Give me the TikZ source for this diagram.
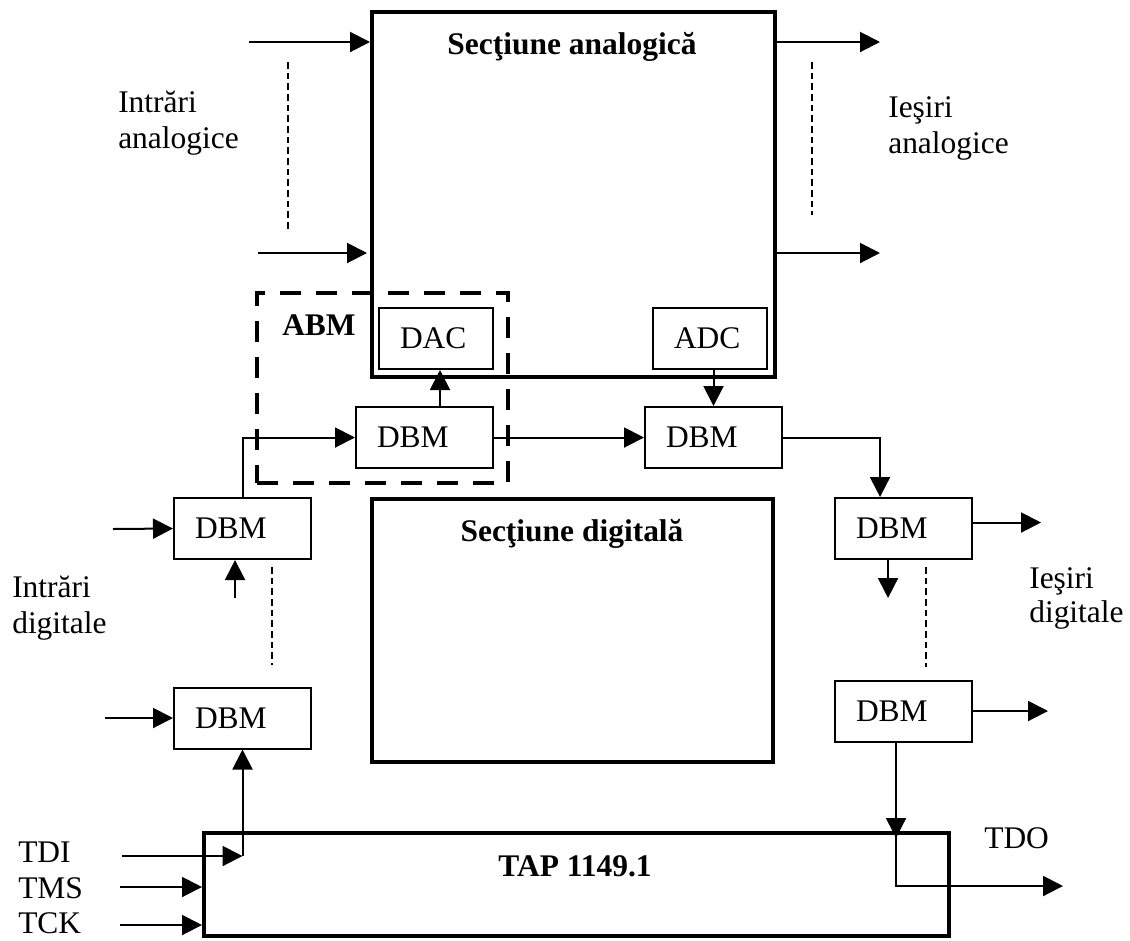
\documentclass[tikz,border=0pt]{standalone}
\usepackage{fontspec}
\setmainfont{Liberation Serif}
\usetikzlibrary{arrows.meta}
\begin{document}
\begin{tikzpicture}[x=0.75pt,y=-0.75pt,
  font=\fontsize{23.6}{28}\selectfont,
  arr/.style={line width=1.5pt,-{Triangle[length=15pt,width=15pt]}},
  ln/.style={line width=1.5pt},
  dsh/.style={line width=1.2pt,dash pattern=on 5pt off 3pt},
  big/.style={draw,line width=3pt,rectangle,inner sep=0pt},
  abmbox/.style={draw,line width=3.5pt,rectangle,inner sep=0pt,dash pattern=on 16pt off 11pt},
  blk/.style={draw,line width=1.5pt,rectangle,inner xsep=15.75pt,inner ysep=0pt,minimum height=45.75pt,align=left},
  dbm/.style={blk,text width=71.25pt},
  cnv/.style={blk,text width=54pt},
  lbl/.style={anchor=base west,inner sep=0pt},
  ttl/.style={anchor=base,inner sep=0pt,font=\fontsize{23.6}{28}\selectfont\bfseries}
]
\useasboundingbox (0,0) rectangle (1130,940);

% big sections
\node[big,minimum width=302.25pt,minimum height=273.75pt] (ana) at (573.5,194.5) {};
\node[big,minimum width=300.75pt,minimum height=197.25pt] (dig) at (572.5,630.5) {};
\node[big,minimum width=558.75pt,minimum height=77.25pt] (tap) at (576.5,884.5) {};
\node[ttl] (tana) at (572,54) {Secţiune analogică};
\node[ttl] (tdig) at (572,541) {Secţiune digitală};
\node[ttl] (ttap) at (575,876) {TAP 1149.1};

% ABM dashed box
\node[abmbox,minimum width=188.25pt,minimum height=142.5pt] (abm) at (382.5,388) {};
\node[ttl,anchor=base west] (tabm) at (282,335) {ABM};

% blocks
\node[cnv] (dac) at (436,338.5) {DAC};
\node[cnv] (adc) at (710,338.5) {ADC};
\node[dbm] (d1) at (424.5,437.5) {DBM};
\node[dbm] (d2) at (713.5,437.5) {DBM};
\node[dbm] (d3) at (903.5,528.5) {DBM};
\node[dbm] (d4) at (903.5,711) {DBM};
\node[dbm] (d6) at (242.5,528.5) {DBM};
\node[dbm] (d5) at (242.5,718) {DBM};

% analog inputs / outputs
\coordinate (ia1) at (249,42);
\coordinate (ia2) at (258,253);
\coordinate (ia2e) at (367,253);
\coordinate (oa1) at (880,42);
\coordinate (oa2) at (880,253);
\draw[arr] (ia1) -- (ia1 -| ana.west);
\draw[arr] (ia2) -- (ia2e);
\draw[arr] (oa1 -| ana.east) -- (oa1);
\draw[arr] (oa2 -| ana.east) -- (oa2);
\coordinate (dl1) at (288,62); \coordinate (dl2) at (288,230);
\coordinate (dr1) at (812,62); \coordinate (dr2) at (812,215);
\draw[dsh] (dl1) -- (dl2);
\draw[dsh] (dr1) -- (dr2);

\node[lbl] (la1) at (118,112) {Intrări};
\node[lbl] (la2) at (118,148) {analogice};
\node[lbl] (ra1) at (888,117) {Ieşiri};
\node[lbl] (ra2) at (888,153) {analogice};

% ABM internal
\draw[arr] ([xshift=3pt]dac.south |- d1.north) -- ([xshift=3pt]dac.south);
\draw[arr] (adc.south -| d2.north) -- (d2.north);
\draw[arr] (d1.east) -- (d2.west);
\draw[arr] (d2.east) -| ([xshift=-17.6pt]d3.north);

% right digital outputs
\draw[arr] ([yshift=4.5pt]d3.east) -- ++(68,0);
\draw[arr] ([xshift=-11.6pt]d3.south) -- ++(0,38);
\coordinate (dd1) at (926,567); \coordinate (dd2) at (926,667);
\draw[dsh] (dd1) -- (dd2);
\draw[arr] (d4.east) -- ++(75,0);
\node[lbl] (rd1) at (1029,588) {Ieşiri};
\node[lbl] (rd2) at (1029,622) {digitale};

% left digital inputs
\coordinate (in6) at (113,529);
\coordinate (in5) at (105,718);
\draw[arr] (in6) -- (d6.west);
\draw[arr] (in5) -- (d5.west);
\draw[arr] ([xshift=-5.6pt]d6.south) ++(0,38) -- ([xshift=-5.6pt]d6.south);
\coordinate (dm1) at (272,567); \coordinate (dm2) at (272,665);
\draw[dsh] (dm1) -- (dm2);
\draw[arr] (d6.north) |- (d1.west);
\node[lbl] (ld1) at (12,597) {Intrări};
\node[lbl] (ld2) at (12,633) {digitale};

% TAP
\coordinate (tdi) at (122,856);
\coordinate (tms) at (120,887);
\coordinate (tck) at (120,925);
\coordinate (tdo) at (1063,886);
\coordinate (tin) at (896,838);
\draw[arr] (tdi) -- (tdi -| d5.south);
\draw[arr] (tdi -| d5.south) -- (d5.south);
\draw[arr] (tms) -- (tms -| tap.west);
\draw[arr] (tck) -- (tck -| tap.west);
\draw[arr] ([xshift=-5.6pt]d4.south) -- ([xshift=-5.6pt]d4.south |- tin);
\draw[arr] ([xshift=-5.6pt]d4.south |- tap.north) |- (tdo);
\node[lbl] (ltdi) at (18,862) {TDI};
\node[lbl] (ltms) at (18,898) {TMS};
\node[lbl] (ltck) at (18,933) {TCK};
\node[lbl] (ltdo) at (984,848) {TDO};
\end{tikzpicture}
\end{document}
